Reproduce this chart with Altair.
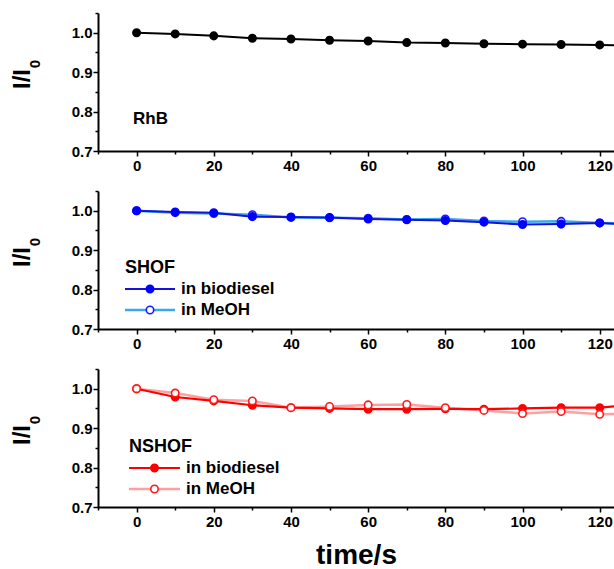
import altair as alt
import pandas as pd

# Photostability: relative intensity I/I0 versus irradiation time
time_s = [0, 10, 20, 30, 40, 50, 60, 70, 80, 90, 100, 110, 120, 130]

rhb = [1.000, 0.997, 0.992, 0.986, 0.984, 0.981, 0.979, 0.975, 0.974, 0.972, 0.971, 0.970, 0.969, 0.967]

shof_biodiesel = [1.000, 0.997, 0.995, 0.985, 0.984, 0.983, 0.979, 0.977, 0.975, 0.971, 0.965, 0.966, 0.969, 0.963]
shof_meoh = [1.000, 0.995, 0.993, 0.990, 0.983, 0.982, 0.981, 0.978, 0.979, 0.974, 0.972, 0.973, 0.969, 0.967]

nshof_biodiesel = [1.000, 0.979, 0.969, 0.958, 0.952, 0.950, 0.948, 0.948, 0.949, 0.948, 0.950, 0.952, 0.952, 0.960]
nshof_meoh = [1.000, 0.989, 0.972, 0.969, 0.952, 0.955, 0.959, 0.960, 0.952, 0.945, 0.937, 0.942, 0.935, 0.937]

x_tick_values = [-10, 0, 10, 20, 30, 40, 50, 60, 70, 80, 90, 100, 110, 120]
y_tick_values = [0.7, 0.75, 0.8, 0.85, 0.9, 0.95, 1.0, 1.05]

FONT = "Liberation Sans"
X_DOMAIN = [-10, 123.7]
Y_DOMAIN = [0.7, 1.05]
W, H = 516, 138


def x_enc(title=None):
    axis_kw = dict(
        values=x_tick_values,
        labelExpr="datum.value % 20 === 0 ? datum.label : ''",
        tickSize={"condition": {"test": "datum.value % 20 === 0", "value": 5}, "value": 3},
        grid=False,
        labelFontSize=15,
        labelFontWeight="bold",
        labelFont=FONT,
        labelColor="black",
        labelPadding=2,
        domainColor="black",
        domainWidth=2,
        tickColor="black",
        tickWidth=1.5,
    )
    if title:
        axis_kw.update(title=title, titleFontSize=28, titleFont=FONT,
                       titleFontWeight="bold", titleColor="black", titlePadding=12)
    else:
        axis_kw.update(title=None)
    return alt.X("t:Q", scale=alt.Scale(domain=X_DOMAIN, nice=False, zero=False),
                 axis=alt.Axis(**axis_kw))


def y_enc():
    return alt.Y(
        "v:Q",
        scale=alt.Scale(domain=Y_DOMAIN, nice=False, zero=False),
        axis=alt.Axis(
            title=None,
            values=y_tick_values,
            labelExpr="round(datum.value * 100) % 10 === 0 ? format(datum.value, '.1f') : ''",
            tickSize={"condition": {"test": "round(datum.value * 100) % 10 === 0", "value": 5}, "value": 3},
            grid=False,
            labelFontSize=15,
            labelFontWeight="bold",
            labelFont=FONT,
            labelColor="black",
            labelPadding=1,
            domainColor="black",
            domainWidth=2,
            tickColor="black",
            tickWidth=1.5,
        ),
    )


def series(values, line_color, line_width, fill, stroke, xe):
    df = pd.DataFrame({"t": time_s, "v": values})
    base = alt.Chart(df).encode(x=xe, y=y_enc())
    line = base.mark_line(color=line_color, strokeWidth=line_width, clip=True)
    pts = base.mark_point(shape="circle", size=55, filled=False, fill=fill, stroke=stroke,
                          strokeWidth=1.6, opacity=1, clip=True)
    return line, pts


one = pd.DataFrame({"k": [0]})


def ytitle():
    main = alt.Chart(one).mark_text(text="I/I", angle=270, fontSize=24, fontWeight="bold",
                                    font=FONT, color="black", align="center",
                                    baseline="middle").encode(x=alt.value(-75), y=alt.value(66))
    sub = alt.Chart(one).mark_text(text="0", angle=270, fontSize=15, fontWeight="bold",
                                   font=FONT, color="black", align="center",
                                   baseline="middle").encode(x=alt.value(-63), y=alt.value(51))
    return [main, sub]


def label(text, x, y, size=16):
    return alt.Chart(one).mark_text(text=text, fontSize=size, fontWeight="bold", font=FONT,
                                    color="black", align="left",
                                    baseline="middle").encode(x=alt.value(x), y=alt.value(y))


def legend_item(y, x0, x1, line_color, line_width, fill, stroke, text):
    seg = alt.Chart(one).mark_rule(color=line_color, strokeWidth=line_width).encode(
        x=alt.value(x0), x2=alt.value(x1), y=alt.value(y))
    dot = alt.Chart(one).mark_point(shape="circle", size=55, filled=False, fill=fill,
                                    stroke=stroke, strokeWidth=1.6, opacity=1).encode(
        x=alt.value((x0 + x1) / 2), y=alt.value(y))
    return [seg, dot, label(text, x1 + 6, y, 17)]


# Panel 1: RhB
xe1 = x_enc()
l1, p1 = series(rhb, "black", 2, "black", "black", xe1)
panel1 = alt.layer(l1, p1, label("RhB", 35, 106, 17), *ytitle()).properties(width=W, height=H)

# Panel 2: SHOF
xe2 = x_enc()
l2b, p2b = series(shof_biodiesel, "#1414d2", 2, "#0000ff", "#0000ff", xe2)
l2m, p2m = series(shof_meoh, "#3aa8f0", 2.5, "white", "#1a1aff", xe2)
panel2 = alt.layer(
    l2m, l2b, p2m, p2b,
    label("SHOF", 27, 77, 18),
    *legend_item(98, 27, 77, "#1414d2", 2, "#0000ff", "#0000ff", "in biodiesel"),
    *legend_item(119, 27, 77, "#3aa8f0", 2.5, "white", "#1a1aff", "in MeOH"),
    *ytitle(),
).properties(width=W, height=H)

# Panel 3: NSHOF
xe3 = x_enc("time/s")
l3b, p3b = series(nshof_biodiesel, "#ff0000", 2.2, "#ff0000", "#ff0000", xe3)
l3m, p3m = series(nshof_meoh, "#ffa0a0", 2.5, "white", "#ff1a1a", xe3)
panel3 = alt.layer(
    l3m, l3b, p3b, p3m,
    label("NSHOF", 31, 78, 18),
    *legend_item(99, 31, 82, "#ff0000", 2.2, "#ff0000", "#ff0000", "in biodiesel"),
    *legend_item(120, 31, 82, "#ffa0a0", 2.5, "white", "#ff1a1a", "in MeOH"),
    *ytitle(),
).properties(width=W, height=H)

chart = alt.vconcat(panel1, panel2, panel3, spacing=17).properties(
    padding={"left": 11, "top": 12, "right": 0, "bottom": 0},
    background="white",
).configure_view(stroke=None)

chart.save("out.html", embed_options={"renderer": "svg", "actions": False})
